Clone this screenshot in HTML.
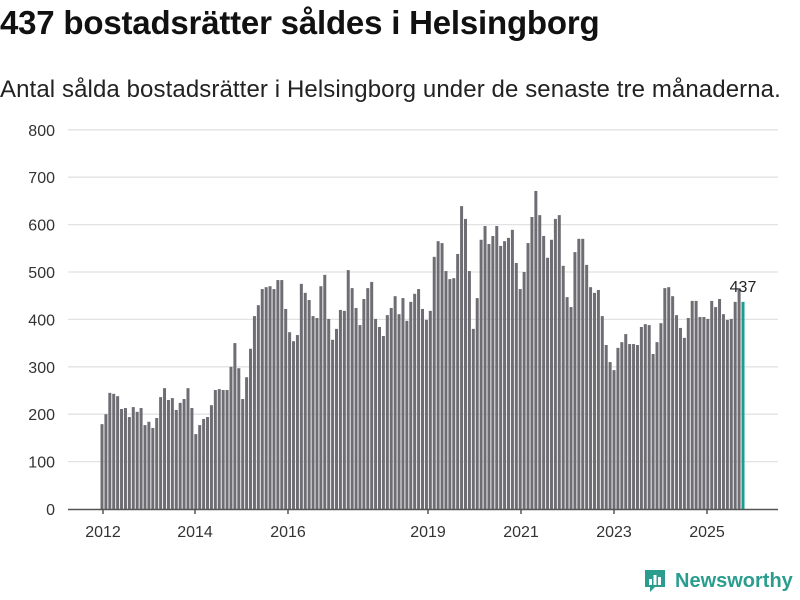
<!DOCTYPE html>
<html><head><meta charset="utf-8"><style>
body{margin:0;background:#fff;font-family:"Liberation Sans",sans-serif;}
#wrap{position:relative;width:800px;height:600px;overflow:hidden}
h1{position:absolute;left:0;top:4px;margin:0;font-size:33px;font-weight:bold;color:#111;letter-spacing:-0.2px}
.sub{position:absolute;left:0;top:76px;font-size:24px;color:#222;letter-spacing:0.1px}
</style></head><body>
<div id="wrap">
<h1>437 bostadsrätter såldes i Helsingborg</h1>
<div class="sub">Antal sålda bostadsrätter i Helsingborg under de senaste tre månaderna.</div>
<svg id="chart" width="800" height="600" style="position:absolute;left:0;top:0"></svg>
</div>
<script>
const values=[179,200,245,243,238,211,213,194,215,205,213,177,184,171,192,236,255,230,234,209,224,232,255,213,158,177,190,194,219,251,253,251,251,
300,350,297,232,278,338,407,430,464,468,470,464,483,483,422,373,354,367,475,456,441,407,403,470,494,401,357,380,420,418,504,466,424,
388,443,466,479,401,384,365,409,424,449,411,445,397,437,454,464,422,399,418,532,565,561,502,485,487,538,639,612,502,380,445,568,597,559,
576,597,555,565,572,589,519,464,500,561,616,671,620,576,530,568,612,620,513,447,426,542,570,570,515,468,456,462,407,346,310,293,340,
352,369,348,348,346,384,390,388,327,352,392,466,468,449,409,382,361,403,439,439,405,405,401,439,426,443,411,399,401,437,466,437];
const yTicks=[0,100,200,300,400,500,600,700,800];
const xTickLabels=["2012","2014","2016","2019","2021","2023","2025"];
const xTickPos=[103,195,288,428,521,614,707];
const svg=document.getElementById('chart');
const NS='http://www.w3.org/2000/svg';
const y=v=>509-v*0.474;
const x=i=>102+i*(743-102)/(values.length-1);
function mk(t,a){const e=document.createElementNS(NS,t);for(const k in a)e.setAttribute(k,a[k]);svg.appendChild(e);return e;}
yTicks.forEach(v=>{
 if(v>0){const g=mk('line',{x1:68,x2:778,y1:y(v),y2:y(v),stroke:'#e2e2e2','stroke-width':1.3});
 
 }
 const t=mk('text',{x:55,y:y(v)+6,'text-anchor':'end','font-size':16,fill:'#333','font-family':'Liberation Sans, sans-serif'});
 t.textContent=v;
 
 
});
values.forEach((v,i)=>{
 const last=i===values.length-1;
 const r=mk('rect',{x:x(i)-1.5,y:y(v),width:3,height:509-y(v),fill:last?'#1a9e8f':'#6e6d73'});
 
 
});
const ax=mk('line',{x1:68,x2:778,y1:509.5,y2:509.5,stroke:'#555','stroke-width':1.5});


xTickLabels.forEach((l,i)=>{
 const tk=mk('line',{x1:xTickPos[i],x2:xTickPos[i],y1:509,y2:514,stroke:'#555','stroke-width':1.5});
 
 
 const t=mk('text',{x:xTickPos[i],y:537,'text-anchor':'middle','font-size':16,fill:'#333','font-family':'Liberation Sans, sans-serif'});
 t.textContent=l;
 
 
});
const lv=values[values.length-1];
const lab=mk('text',{x:x(values.length-1),y:y(lv)-10,'text-anchor':'middle','font-size':16,fill:'#222','font-family':'Liberation Sans, sans-serif'});
lab.textContent=lv;


</script>
<div style="position:absolute;left:643px;top:568px;display:flex;align-items:center">
<svg width="24" height="26"><path d="M2 2h20v17H12l-5 5v-5H2z" fill="#2a9d8f"/><rect x="6" y="11" width="3" height="6" fill="#fff"/><rect x="10.5" y="7" width="3" height="10" fill="#fff"/><rect x="15" y="9" width="3" height="8" fill="#fff"/></svg>
<span style="font-size:20px;font-weight:bold;color:#2a9d8f;margin-left:8px">Newsworthy</span>
</div>
</body></html>
